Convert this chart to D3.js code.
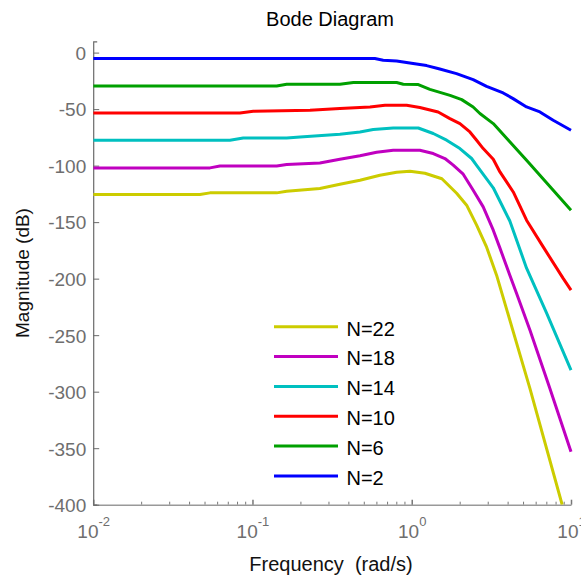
<!DOCTYPE html>
<html>
<head>
<meta charset="utf-8">
<script src="https://cdn.jsdelivr.net/npm/d3@7/dist/d3.min.js"></script>
<style>
  html, body { margin: 0; padding: 0; background: #fff; }
  svg { display: block; font-family: "Liberation Sans", Arial, sans-serif; }
</style>
</head>
<body>
<svg id="chart" width="581" height="577"></svg>
<script>
// ---- data (frequency in rad/s, magnitude in dB) ----
const seriesNames = ["N=22", "N=18", "N=14", "N=10", "N=6", "N=2"];
const seriesColors = ["#cccc00", "#c000c0", "#00c0c0", "#ff0000", "#00a000", "#0000ff"];

const freqN2 = [0.01, 0.587, 0.662, 0.804, 1.02, 1.24, 1.50, 1.91, 2.43, 2.95, 3.75, 4.33, 5.26, 6.38, 7.73, 10];
const magN2  = [-5.3, -5.3, -6.8, -7.4, -9.7, -11.5, -14.5, -18.6, -23.9, -29.8, -35.7, -40.7, -48.1, -52.5, -59.9, -68.7];

const freqN6 = [0.01, 0.142, 0.164, 0.354, 0.430, 0.804, 0.885, 1.10, 1.30, 1.74, 2.06, 2.43, 2.68, 3.25, 4.14, 5.26, 10];
const magN6  = [-29.5, -29.5, -28.0, -28.0, -26.5, -26.5, -28.0, -28.3, -32.5, -37.8, -41.6, -48.1, -53.9, -62.8, -79.0, -95.2, -139.4];

const freqN10 = [0.01, 0.0834, 0.1012, 0.2296, 0.354, 0.547, 0.679, 0.929, 1.124, 1.465, 1.737, 2.007, 2.318, 2.555, 2.81, 3.25, 3.58, 4.34, 5.26, 6.69, 8.93, 10];
const magN10  = [-53.4, -53.4, -51.9, -51.0, -49.5, -48.1, -46.6, -46.6, -48.6, -52.5, -58.4, -62.8, -70.2, -77.5, -84.9, -94.3, -105.6, -123.3, -148.3, -171.9, -199.8, -210.2];

const freqN14 = [0.01, 0.0722, 0.0875, 0.164, 0.199, 0.354, 0.473, 0.573, 0.765, 1.099, 1.365, 1.656, 2.007, 2.377, 2.555, 3.25, 4.13, 5.26, 7.03, 10];
const magN14  = [-77.5, -77.5, -75.5, -75.5, -74.6, -72.2, -70.2, -68.1, -66.7, -66.7, -71.6, -77.5, -84.9, -93.7, -99.7, -119.6, -149.0, -190.7, -230.5, -280.9];

const freqN18 = [0.01, 0.0541, 0.0625, 0.142, 0.164, 0.265, 0.354, 0.473, 0.602, 0.765, 1.124, 1.365, 1.616, 1.822, 2.105, 2.432, 2.81, 3.25, 3.58, 4.13, 4.555, 5.52, 7.37, 10];
const magN18  = [-102.0, -102.0, -100.3, -100.3, -99.0, -97.6, -94.3, -91.3, -88.2, -86.4, -86.4, -89.3, -93.7, -99.6, -107.6, -121.8, -136.5, -157.1, -173.0, -196.9, -213.1, -245.5, -297.1, -353.1];

const freqN22 = [0.01, 0.0468, 0.0541, 0.142, 0.164, 0.265, 0.354, 0.473, 0.631, 0.804, 0.975, 1.21, 1.547, 1.914, 2.212, 2.555, 2.953, 3.41, 4.13, 5.52, 8.8];
const magN22  = [-125.6, -125.6, -124.1, -124.1, -122.6, -120.3, -116.5, -112.9, -108.5, -105.8, -105.0, -106.7, -111.6, -124.4, -135.0, -152.7, -172.2, -196.9, -236.7, -297.1, -400];

const yTicks = [-400, -350, -300, -250, -200, -150, -100, -50, 0];
const xDecades = [0.01, 0.1, 1, 10];
const xDecadeExp = ["-2", "-1", "0", "1"];

const seriesFreq = [freqN22, freqN18, freqN14, freqN10, freqN6, freqN2];
const seriesMag  = [magN22, magN18, magN14, magN10, magN6, magN2];

// ---- layout ----
const svg = d3.select("#chart");
const plotL = 93.2, plotR = 571, plotT = 41.3, plotB = 504.7;

const x = d3.scaleLog().domain([0.01, 10]).range([plotL, plotR]);
const y = d3.scaleLinear().domain([-400, 10]).range([plotB, plotT]);

svg.append("defs").append("clipPath").attr("id", "plotclip")
  .append("rect").attr("x", plotL).attr("y", plotT).attr("width", plotR - plotL + 2).attr("height", plotB - plotT);

// title
svg.append("text").attr("x", 330).attr("y", 25.5).attr("text-anchor", "middle")
  .attr("font-size", 20).attr("fill", "#000").text("Bode Diagram");

// y label
svg.append("text").attr("transform", "translate(29,273) rotate(-90)").attr("text-anchor", "middle")
  .attr("font-size", 19).attr("fill", "#111").text("Magnitude (dB)");

// x label
svg.append("text").attr("x", 331).attr("y", 571).attr("text-anchor", "middle")
  .attr("font-size", 20).attr("fill", "#111").style("white-space", "pre").text("Frequency  (rad/s)");

// minor x ticks
const minorTicks = [];
xDecades.slice(0, 3).forEach(d => { for (let k = 2; k <= 9; k++) minorTicks.push(d * k); });

const xMinor = d3.axisBottom(x).tickValues(minorTicks).tickSizeInner(-3).tickSizeOuter(0).tickFormat("");
const gxm = svg.append("g").attr("transform", `translate(0,${plotB})`).call(xMinor);
gxm.select(".domain").remove();
gxm.selectAll(".tick line").attr("stroke", "#777").attr("stroke-width", 1);

const xMajor = d3.axisBottom(x).tickValues(xDecades).tickSizeInner(-5).tickSizeOuter(0).tickFormat("");
const gx = svg.append("g").attr("transform", `translate(0,${plotB})`).call(xMajor);
gx.select(".domain").attr("stroke", "#999").attr("stroke-width", 1.5);
gx.selectAll(".tick line").attr("stroke", "#777").attr("stroke-width", 1.5);
gx.selectAll(".tick").each(function(d, i) {
  const t = d3.select(this).append("text").attr("y", 33.6).attr("text-anchor", "middle")
    .attr("fill", "#6e6e6e").attr("font-size", 19);
  t.append("tspan").text("10");
  t.append("tspan").attr("font-size", 13).attr("dy", -12).text(xDecadeExp[i]);
});

// y axis
const yAxis = d3.axisLeft(y).tickValues(yTicks).tickSizeInner(-6).tickSizeOuter(-4).tickPadding(7)
  .tickFormat(d => String(d));
const gy = svg.append("g").attr("transform", `translate(${plotL},0)`).call(yAxis);
gy.select(".domain").attr("stroke", "#6a6a6a").attr("stroke-width", 1.2);
gy.selectAll(".tick line").attr("stroke", "#6a6a6a");
gy.selectAll(".tick text").attr("fill", "#6e6e6e").attr("font-size", 19)
  .attr("font-family", "Liberation Sans, Arial, sans-serif").attr("dy", "0.36em");

// lines
const line = d3.line().x(d => x(d[0])).y(d => y(d[1]));
const gl = svg.append("g").attr("clip-path", "url(#plotclip)");
for (let s = seriesFreq.length - 1; s >= 0; s--) {
  const pts = seriesFreq[s].map((f, i) => [f, seriesMag[s][i]]);
  gl.append("path").datum(pts).attr("d", line).attr("fill", "none")
    .attr("stroke", seriesColors[s]).attr("stroke-width", 3).attr("stroke-linejoin", "round");
}

// legend
const lg = svg.append("g");
seriesNames.forEach((n, i) => {
  const yy = 326.7 + i * 29.85;
  lg.append("line").attr("x1", 274).attr("x2", 338).attr("y1", yy).attr("y2", yy)
    .attr("stroke", seriesColors[i]).attr("stroke-width", 3);
  lg.append("text").attr("x", 346.5).attr("y", yy + 8.8).attr("font-size", 20).attr("fill", "#000").text(n);
});
</script>
</body>
</html>
